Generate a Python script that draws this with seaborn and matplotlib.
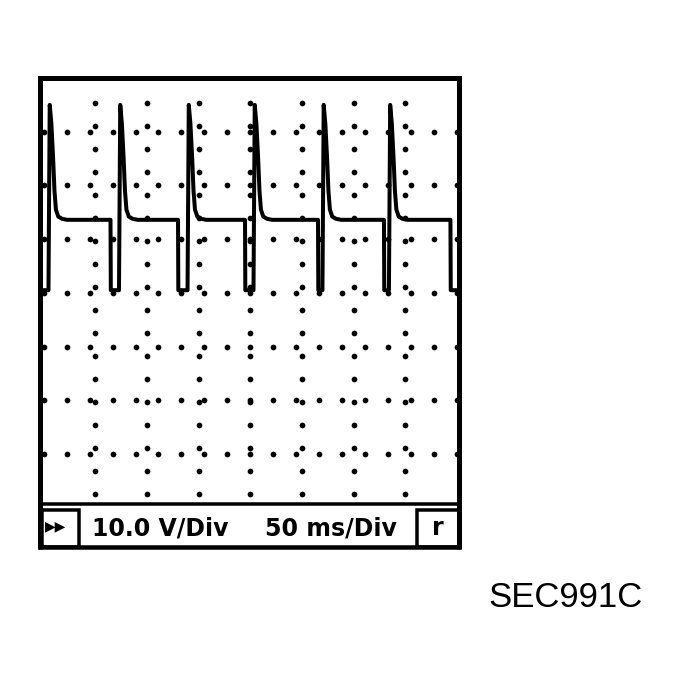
import numpy as np
import pandas as pd
import matplotlib
matplotlib.use("Agg")
import matplotlib.pyplot as plt
import seaborn as sns
from matplotlib.patches import Rectangle

# ---------------- data ----------------
time_ms = [-4.0,
           4.7, 5.9, 7.5, 9.2, 10.5, 11.9, 14.2, 17.7, 22.7, 64.7, 65.0,
           72.9, 74.1, 75.7, 77.4, 78.7, 80.1, 82.4, 85.9, 90.9, 130.0, 130.3,
           139.2, 140.4, 142.0, 143.7, 145.0, 146.4, 148.7, 152.2, 157.2, 194.8, 195.1,
           203.0, 204.2, 205.8, 207.5, 208.8, 210.2, 212.5, 216.0, 221.0, 265.4, 265.7,
           269.7, 270.9, 272.5, 274.2, 275.5, 276.9, 279.2, 282.7, 287.7, 329.2, 329.5,
           334.0, 335.2, 336.8, 338.5, 339.8, 341.2, 343.5, 347.0, 352.0, 393.5, 393.8,
           405.0]
volts = [0.5,
         0.5, 35.0, 31.5, 25.0, 19.0, 15.5, 14.2, 13.8, 13.6, 13.6, 0.5,
         0.5, 35.0, 31.5, 25.0, 19.0, 15.5, 14.2, 13.8, 13.6, 13.6, 0.5,
         0.5, 35.0, 31.5, 25.0, 19.0, 15.5, 14.2, 13.8, 13.6, 13.6, 0.5,
         0.5, 35.0, 31.5, 25.0, 19.0, 15.5, 14.2, 13.8, 13.6, 13.6, 0.5,
         0.5, 35.0, 31.5, 25.0, 19.0, 15.5, 14.2, 13.8, 13.6, 13.6, 0.5,
         0.5, 35.0, 31.5, 25.0, 19.0, 15.5, 14.2, 13.8, 13.6, 13.6, 0.5,
         0.5]
volts_per_div = 10.0
ms_per_div = 50
n_div_x = 8
n_div_y = 8
scale_label = "10.0 V/Div"
time_label = "50 ms/Div"
mode_symbol = "\u25b6\u25b6"
right_key = "r"
figure_code = "SEC991C"

# ---------------- layout ----------------
W, H = 681, 684
sns.set_style("white")
plt.rcParams["font.family"] = ["DejaVu Sans"]
fig = plt.figure(figsize=(W / 100, H / 100), dpi=100)


def px_axes(x0, y0, x1, y1):
    return fig.add_axes([x0 / W, 1 - y1 / H, (x1 - x0) / W, (y1 - y0) / H])


PT = 72 / 100  # points per pixel

ax = px_axes(40, 78, 458.5, 504)
ax.set_xlim(-3.5, n_div_x * ms_per_div + 1.3)
ax.set_ylim(-39.3, n_div_y / 2 * volts_per_div)

# dotted graticule
row_t = np.linspace(0, n_div_x * ms_per_div, 19)
row_v = np.arange(-3, 4) * volts_per_div
col_t = np.arange(1, n_div_x) * ms_per_div
col_v = 35.35 - 4.282 * np.arange(18)
dots = pd.concat([
    pd.DataFrame({"t": np.repeat(row_t, len(row_v)), "v": np.tile(row_v, len(row_t))}),
    pd.DataFrame({"t": np.repeat(col_t, len(col_v)), "v": np.tile(col_v, len(col_t))}),
])
sns.scatterplot(data=dots, x="t", y="v", color="black", s=17, linewidth=0,
                ax=ax, legend=False, zorder=2)

# waveform
trace = pd.DataFrame({"t": time_ms, "v": volts})
sns.lineplot(data=trace, x="t", y="v", sort=False, estimator=None, color="black",
             linewidth=4 * PT, ax=ax, solid_joinstyle="round",
             solid_capstyle="round", zorder=3)

ax.set_xticks([])
ax.set_yticks([])
ax.set_xlabel("")
ax.set_ylabel("")
for side in ["top", "left", "right"]:
    ax.spines[side].set_visible(True)
    ax.spines[side].set_color("black")
    ax.spines[side].set_linewidth(5 * PT)
ax.spines["bottom"].set_visible(True)
ax.spines["bottom"].set_color("black")
ax.spines["bottom"].set_linewidth(3.5 * PT)

# bottom status bar (pixel coordinates)
bar = px_axes(34, 503, 464, 552)
bar.set_xlim(34, 464)
bar.set_ylim(552, 503)
bar.axis("off")
bar.plot([40, 40], [503, 548.5], color="black", lw=5 * PT, solid_capstyle="butt")
bar.plot([458.5, 458.5], [503, 548.5], color="black", lw=5 * PT, solid_capstyle="butt")
bar.plot([37.5, 461], [546.5, 546.5], color="black", lw=4.5 * PT, solid_capstyle="butt")
bar.add_patch(Rectangle((41.5, 509.5), 37.5, 37, fill=False, ec="black", lw=3.5 * PT))
bar.add_patch(Rectangle((416.5, 509.5), 42, 37, fill=False, ec="black", lw=3.5 * PT))
bar.text(56, 526, mode_symbol, fontsize=10, ha="center", va="center", color="black")
bar.text(92, 536, scale_label, fontsize=17, fontweight="bold", ha="left",
         va="baseline", color="black")
bar.text(265, 536, time_label, fontsize=17, fontweight="bold", ha="left",
         va="baseline", color="black")
bar.text(437.5, 535, right_key, fontsize=17, fontweight="bold", ha="center",
         va="baseline", color="black")

fig.text(488 / W, 1 - 607 / H, figure_code, fontsize=25, ha="left", va="baseline",
         family=["Liberation Sans", "DejaVu Sans"], color="black")

fig.savefig("out.png", dpi=100, facecolor="white")
